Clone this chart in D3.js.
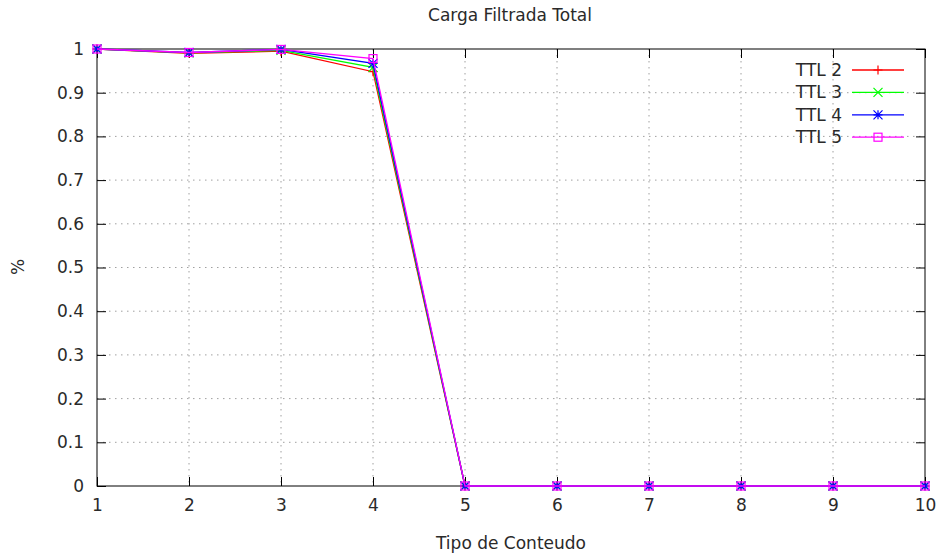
<!DOCTYPE html>
<html>
<head>
<meta charset="utf-8">
<script src="https://cdn.jsdelivr.net/npm/d3@7"></script>
<style>
  html, body { margin: 0; padding: 0; background: #fff; }
  svg { display: block; font-family: "DejaVu Sans", sans-serif; }
</style>
</head>
<body>
<svg id="chart" width="942" height="558"></svg>
<script>
// Content types on the x axis
const categories = [1, 2, 3, 4, 5, 6, 7, 8, 9, 10];

// Share of load filtered, one list per TTL
const ttl2 = [1, 0.990, 0.995, 0.948, 0, 0, 0, 0, 0, 0];
const ttl3 = [1, 0.991, 0.997, 0.958, 0, 0, 0, 0, 0, 0];
const ttl4 = [1, 0.992, 0.999, 0.967, 0, 0, 0, 0, 0, 0];
const ttl5 = [1, 0.992, 0.999, 0.978, 0, 0, 0, 0, 0, 0];

const seriesNames = ["TTL 2", "TTL 3", "TTL 4", "TTL 5"];
const seriesColors = ["#ff0000", "#00ff00", "#0000ff", "#ff00ff"];
const seriesMarkers = ["plus", "cross", "star", "square"];

const xTicks = [1, 2, 3, 4, 5, 6, 7, 8, 9, 10];
const yTicks = [0, 0.1, 0.2, 0.3, 0.4, 0.5, 0.6, 0.7, 0.8, 0.9, 1];

const series = [ttl2, ttl3, ttl4, ttl5].map((vals, i) => ({
  name: seriesNames[i], color: seriesColors[i], marker: seriesMarkers[i],
  points: categories.map((c, j) => ({ x: c, y: vals[j] }))
}));

const fontSize = 17;
const textColor = "#2a2a2a";

const svg = d3.select("#chart");
const plotLeft = 97, plotRight = 925, plotTop = 49, plotBottom = 486;

const x = d3.scaleLinear().domain([1, 10]).range([plotLeft, plotRight]);
const y = d3.scaleLinear().domain([0, 1]).range([plotBottom, plotTop]);

// Dotted grid
const grid = svg.append("g").attr("stroke", "#a0a0a0").attr("stroke-width", 1)
  .attr("stroke-dasharray", "1.5,4.5");
grid.selectAll(".gx").data(xTicks.slice(1, -1)).join("line")
  .attr("x1", d => x(d)).attr("x2", d => x(d)).attr("y1", plotTop).attr("y2", plotBottom);
grid.selectAll(".gy").data(yTicks.slice(1, -1)).join("line")
  .attr("x1", plotLeft).attr("x2", plotRight).attr("y1", d => y(d)).attr("y2", d => y(d));

// Axes with inward ticks, mirrored on the opposite side
const tickLen = 9;
const axisStyle = g => {
  g.select(".domain").remove();
  g.selectAll(".tick line").attr("stroke", "#000");
  g.selectAll(".tick text").attr("fill", textColor).attr("font-size", fontSize)
    .attr("font-family", "DejaVu Sans, sans-serif");
};
svg.append("g").attr("transform", `translate(0,${plotBottom})`)
  .call(d3.axisBottom(x).tickValues(xTicks).tickFormat(d3.format("d"))
    .tickSizeInner(-tickLen).tickPadding(13))
  .call(axisStyle);
svg.append("g").attr("transform", `translate(0,${plotTop})`)
  .call(d3.axisTop(x).tickValues(xTicks).tickFormat("").tickSizeInner(-tickLen))
  .call(axisStyle);
svg.append("g").attr("transform", `translate(${plotLeft},0)`)
  .call(d3.axisLeft(y).tickValues(yTicks).tickFormat(d => d3.format("~g")(d))
    .tickSizeInner(-tickLen).tickPadding(13))
  .call(axisStyle);
svg.append("g").attr("transform", `translate(${plotRight},0)`)
  .call(d3.axisRight(y).tickValues(yTicks).tickFormat("").tickSizeInner(-tickLen))
  .call(axisStyle);

// Plot frame
svg.append("rect").attr("x", plotLeft).attr("y", plotTop)
  .attr("width", plotRight - plotLeft).attr("height", plotBottom - plotTop)
  .attr("fill", "none").attr("stroke", "#000").attr("stroke-width", 1);

// Marker shapes
function drawMarker(g, type, cx, cy, color) {
  const s = 4.5;
  if (type === "plus") {
    g.append("path").attr("d", `M${cx - s},${cy}H${cx + s}M${cx},${cy - s}V${cy + s}`)
      .attr("stroke", color).attr("stroke-width", 1.2).attr("fill", "none");
  } else if (type === "cross") {
    g.append("path").attr("d", `M${cx - s},${cy - s}L${cx + s},${cy + s}M${cx - s},${cy + s}L${cx + s},${cy - s}`)
      .attr("stroke", color).attr("stroke-width", 1.2).attr("fill", "none");
  } else if (type === "star") {
    g.append("path").attr("d",
      `M${cx - s},${cy}H${cx + s}M${cx},${cy - s}V${cy + s}M${cx - s},${cy - s}L${cx + s},${cy + s}M${cx - s},${cy + s}L${cx + s},${cy - s}`)
      .attr("stroke", color).attr("stroke-width", 1.2).attr("fill", "none");
  } else {
    g.append("rect").attr("x", cx - 4).attr("y", cy - 4).attr("width", 8).attr("height", 8)
      .attr("stroke", color).attr("stroke-width", 1.2).attr("fill", "none");
  }
}

const line = d3.line().x(d => x(d.x)).y(d => y(d.y));
series.forEach(s => {
  const g = svg.append("g");
  g.append("path").datum(s.points).attr("d", line)
    .attr("fill", "none").attr("stroke", s.color).attr("stroke-width", 1.3);
  s.points.forEach(p => drawMarker(g, s.marker, x(p.x), y(p.y), s.color));
});

// Legend
const legend = svg.append("g");
series.forEach((s, i) => {
  const ly = 70 + i * 22.4;
  legend.append("text").attr("x", 842).attr("y", ly).attr("dy", "0.35em")
    .attr("text-anchor", "end").attr("font-size", fontSize).attr("fill", textColor).text(s.name);
  legend.append("line").attr("x1", 852).attr("x2", 904).attr("y1", ly).attr("y2", ly)
    .attr("stroke", s.color).attr("stroke-width", 1.3);
  drawMarker(legend, s.marker, 878, ly, s.color);
});

// Titles
svg.append("text").attr("x", 510).attr("y", 21).attr("text-anchor", "middle")
  .attr("font-size", fontSize).attr("fill", textColor).text("Carga Filtrada Total");
svg.append("text").attr("x", 511).attr("y", 549).attr("text-anchor", "middle")
  .attr("font-size", fontSize).attr("fill", textColor).text("Tipo de Conteudo");
svg.append("text").attr("transform", "translate(24,267) rotate(-90)")
  .attr("text-anchor", "middle").attr("font-size", fontSize).attr("fill", textColor).text("%");
</script>
</body>
</html>
